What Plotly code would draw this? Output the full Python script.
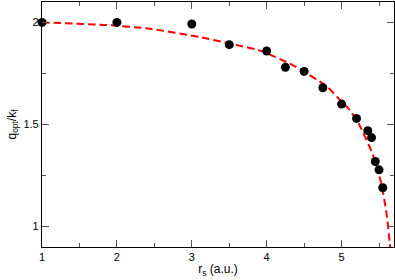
import plotly.graph_objects as go

# Data points
rs_points = [1.0, 2.0, 3.0, 3.5, 4.0, 4.25, 4.5, 4.75, 5.0, 5.2, 5.35, 5.4, 5.45, 5.5, 5.55]
q_points = [2.0, 2.0, 1.992, 1.891, 1.86, 1.78, 1.76, 1.68, 1.60, 1.53, 1.47, 1.436, 1.319, 1.278, 1.19]

# Dashed fit curve
curve_rs = [1.0, 1.87, 2.44, 3.11, 3.51, 3.91, 4.35, 4.8, 4.98, 5.11, 5.24, 5.42, 5.53, 5.6, 5.644, 5.66]
curve_q = [2.0, 1.987, 1.969, 1.928, 1.896, 1.862, 1.79, 1.687, 1.62, 1.57, 1.496, 1.35, 1.21, 1.065, 0.918, 0.85]

x_range = [1, 5.7]
y_range = [0.9, 2.1]

fig = go.Figure()
fig.add_trace(go.Scatter(
    x=curve_rs, y=curve_q, mode="lines",
    line=dict(color="#ff0000", width=2, dash="7.5px,4px", shape="spline", smoothing=0.6),
    hoverinfo="skip", showlegend=False,
))
fig.add_trace(go.Scatter(
    x=rs_points, y=q_points, mode="markers",
    marker=dict(color="black", size=9),
    cliponaxis=False, showlegend=False,
))

font_family = "Liberation Sans, Arial, sans-serif"
axis_common = dict(
    showgrid=False, zeroline=False, automargin=False,
    showline=True, linecolor="black", linewidth=1.2,
    mirror="ticks", ticks="inside", ticklen=7, tickcolor="#555", tickwidth=1,
    tickfont=dict(family=font_family, size=11, color="black"),
)

fig.update_xaxes(
    range=x_range, dtick=1, tick0=1,
    minor=dict(dtick=0.5, tick0=1, ticks="inside", ticklen=4, tickcolor="#555"),
    title=dict(text="r<sub>s</sub> (a.u.)", standoff=2,
               font=dict(family=font_family, size=12, color="black")),
    **axis_common,
)
fig.update_yaxes(
    range=y_range, dtick=0.5, tick0=1,
    minor=dict(dtick=0.25, tick0=1, ticks="inside", ticklen=4, tickcolor="#555"),
    title=dict(text="q<sub>opt</sub>/k<sub>f</sub>", standoff=4,
               font=dict(family=font_family, size=12, color="black")),
    **axis_common,
)
fig.update_layout(
    width=395, height=280,
    margin=dict(l=42, r=1, t=2, b=33),
    paper_bgcolor="white", plot_bgcolor="white",
    showlegend=False,
)
fig.write_html(
    "out.html",
    config={"displayModeBar": False},
    post_script="document.body.style.margin='0';document.body.style.overflow='hidden';",
)
